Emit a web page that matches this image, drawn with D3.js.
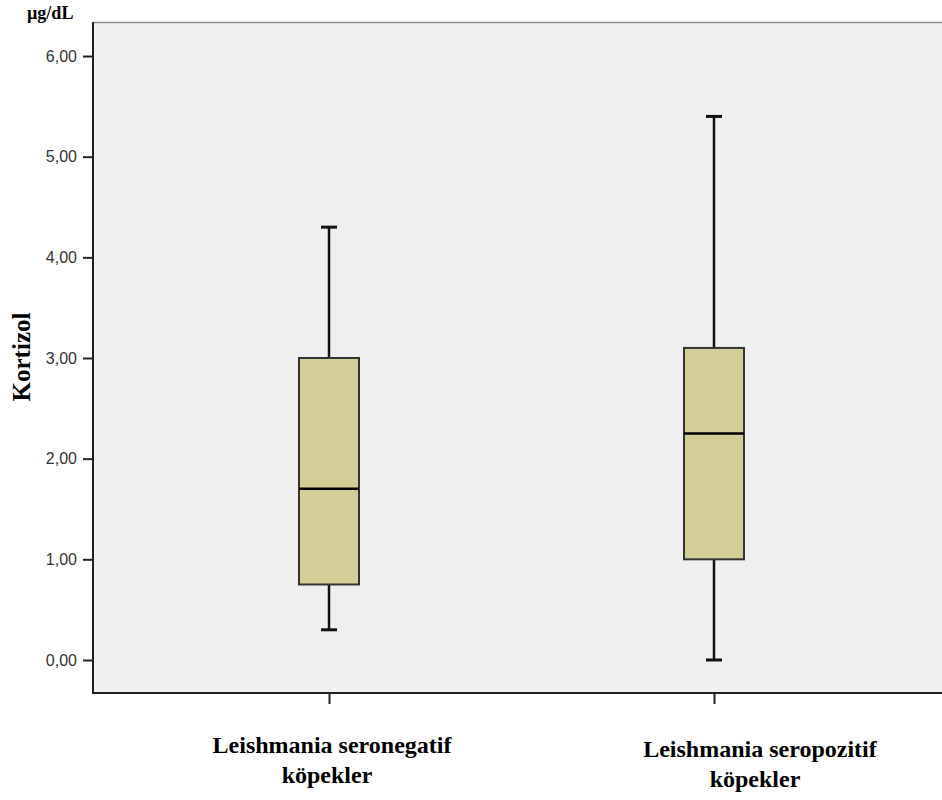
<!DOCTYPE html>
<html>
<head>
<meta charset="utf-8">
<script src="https://cdn.jsdelivr.net/npm/d3@7"></script>
<style>
  html, body { margin: 0; padding: 0; background: #ffffff; }
  svg { display: block; }
</style>
</head>
<body>
<svg id="chart" width="942" height="800"></svg>
<script>
// Groups and their box-plot summaries (Kortizol, µg/dL)
const groups = ["Leishmania seronegatif köpekler", "Leishmania seropozitif köpekler"];
const labelLines = [["Leishmania seronegatif", "köpekler"], ["Leishmania seropozitif", "köpekler"]];
const whiskerLow  = [0.30, 0.00];
const q1          = [0.75, 1.00];
const median      = [1.70, 2.25];
const q3          = [3.00, 3.10];
const whiskerHigh = [4.30, 5.40];
const yTicks = [0, 1, 2, 3, 4, 5, 6];

const svg = d3.select("#chart");
const plot = { left: 93, right: 950, top: 22, bottom: 693 };

const x = d3.scalePoint().domain(groups).range([plot.left, plot.right]).padding(0.613);
const y = d3.scaleLinear().domain([-0.328, 6.338]).range([plot.bottom, plot.top]);

// plot background
svg.append("rect")
  .attr("x", plot.left).attr("y", plot.top)
  .attr("width", 942 - plot.left).attr("height", plot.bottom - plot.top)
  .attr("fill", "#efefef");

// top frame line
svg.append("line")
  .attr("x1", plot.left).attr("x2", 942)
  .attr("y1", plot.top + 0.5).attr("y2", plot.top + 0.5)
  .attr("stroke", "#8a8a8a").attr("stroke-width", 1.5);

// y axis
const yAxis = d3.axisLeft(y).tickValues(yTicks)
  .tickFormat(d => d3.format(".2f")(d).replace(".", ","))
  .tickSize(10).tickPadding(6);
const gy = svg.append("g").attr("transform", `translate(${plot.left},0)`).call(yAxis);
gy.select(".domain").remove();
gy.selectAll(".tick line").attr("stroke", "#222").attr("stroke-width", 2);
gy.selectAll(".tick text")
  .attr("fill", "#333").attr("font-family", "Liberation Sans, Arial, sans-serif")
  .attr("font-size", 16);

// x axis
const xAxis = d3.axisBottom(x).tickSize(11).tickFormat("");
const gx = svg.append("g").attr("transform", `translate(0,${plot.bottom})`).call(xAxis);
gx.select(".domain").remove();
gx.selectAll(".tick line").attr("stroke", "#222").attr("stroke-width", 2);

// axis lines
svg.append("line")
  .attr("x1", plot.left).attr("x2", plot.left)
  .attr("y1", plot.top).attr("y2", plot.bottom + 1)
  .attr("stroke", "#222").attr("stroke-width", 2);
svg.append("line")
  .attr("x1", plot.left - 1).attr("x2", 942)
  .attr("y1", plot.bottom).attr("y2", plot.bottom)
  .attr("stroke", "#222").attr("stroke-width", 2);

// boxes
const boxW = 60, capW = 16;
const data = groups.map((g, i) => ({
  g, lo: whiskerLow[i], q1: q1[i], med: median[i], q3: q3[i], hi: whiskerHigh[i]
}));

const bx = svg.append("g").selectAll("g").data(data).join("g");

bx.append("line")
  .attr("x1", d => x(d.g)).attr("x2", d => x(d.g))
  .attr("y1", d => y(d.hi)).attr("y2", d => y(d.q3))
  .attr("stroke", "#111").attr("stroke-width", 2.5);
bx.append("line")
  .attr("x1", d => x(d.g)).attr("x2", d => x(d.g))
  .attr("y1", d => y(d.q1)).attr("y2", d => y(d.lo))
  .attr("stroke", "#111").attr("stroke-width", 2.5);
bx.append("line")
  .attr("x1", d => x(d.g) - capW / 2).attr("x2", d => x(d.g) + capW / 2)
  .attr("y1", d => y(d.hi)).attr("y2", d => y(d.hi))
  .attr("stroke", "#111").attr("stroke-width", 3);
bx.append("line")
  .attr("x1", d => x(d.g) - capW / 2).attr("x2", d => x(d.g) + capW / 2)
  .attr("y1", d => y(d.lo)).attr("y2", d => y(d.lo))
  .attr("stroke", "#111").attr("stroke-width", 3);
bx.append("rect")
  .attr("x", d => x(d.g) - boxW / 2).attr("width", boxW)
  .attr("y", d => y(d.q3)).attr("height", d => y(d.q1) - y(d.q3))
  .attr("fill", "#d3ce97").attr("stroke", "#333").attr("stroke-width", 2);
bx.append("line")
  .attr("x1", d => x(d.g) - boxW / 2).attr("x2", d => x(d.g) + boxW / 2)
  .attr("y1", d => y(d.med)).attr("y2", d => y(d.med))
  .attr("stroke", "#000").attr("stroke-width", 2.5);

// category labels
const labelOffsets = [3, 46];
const labelBase = [753, 757];
labelLines.forEach((lines, i) => {
  const t = svg.append("text")
    .attr("font-family", "Liberation Serif, Times New Roman, serif")
    .attr("font-weight", "bold").attr("font-size", 24)
    .attr("fill", "#000").attr("text-anchor", "middle");
  lines.forEach((ln, j) => {
    t.append("tspan")
      .attr("x", x(groups[i]) + labelOffsets[i] - (j ? 5 : 0))
      .attr("y", labelBase[i] + j * 30)
      .text(ln);
  });
});

// y-axis title and unit
svg.append("text")
  .attr("transform", `translate(30,357) rotate(-90)`)
  .attr("text-anchor", "middle")
  .attr("font-family", "Liberation Serif, Times New Roman, serif")
  .attr("font-weight", "bold").attr("font-size", 25)
  .text("Kortizol");
svg.append("text")
  .attr("x", 27).attr("y", 19)
  .attr("font-family", "Liberation Serif, Times New Roman, serif")
  .attr("font-weight", "bold").attr("font-size", 18)
  .text("µg/dL");
</script>
</body>
</html>
